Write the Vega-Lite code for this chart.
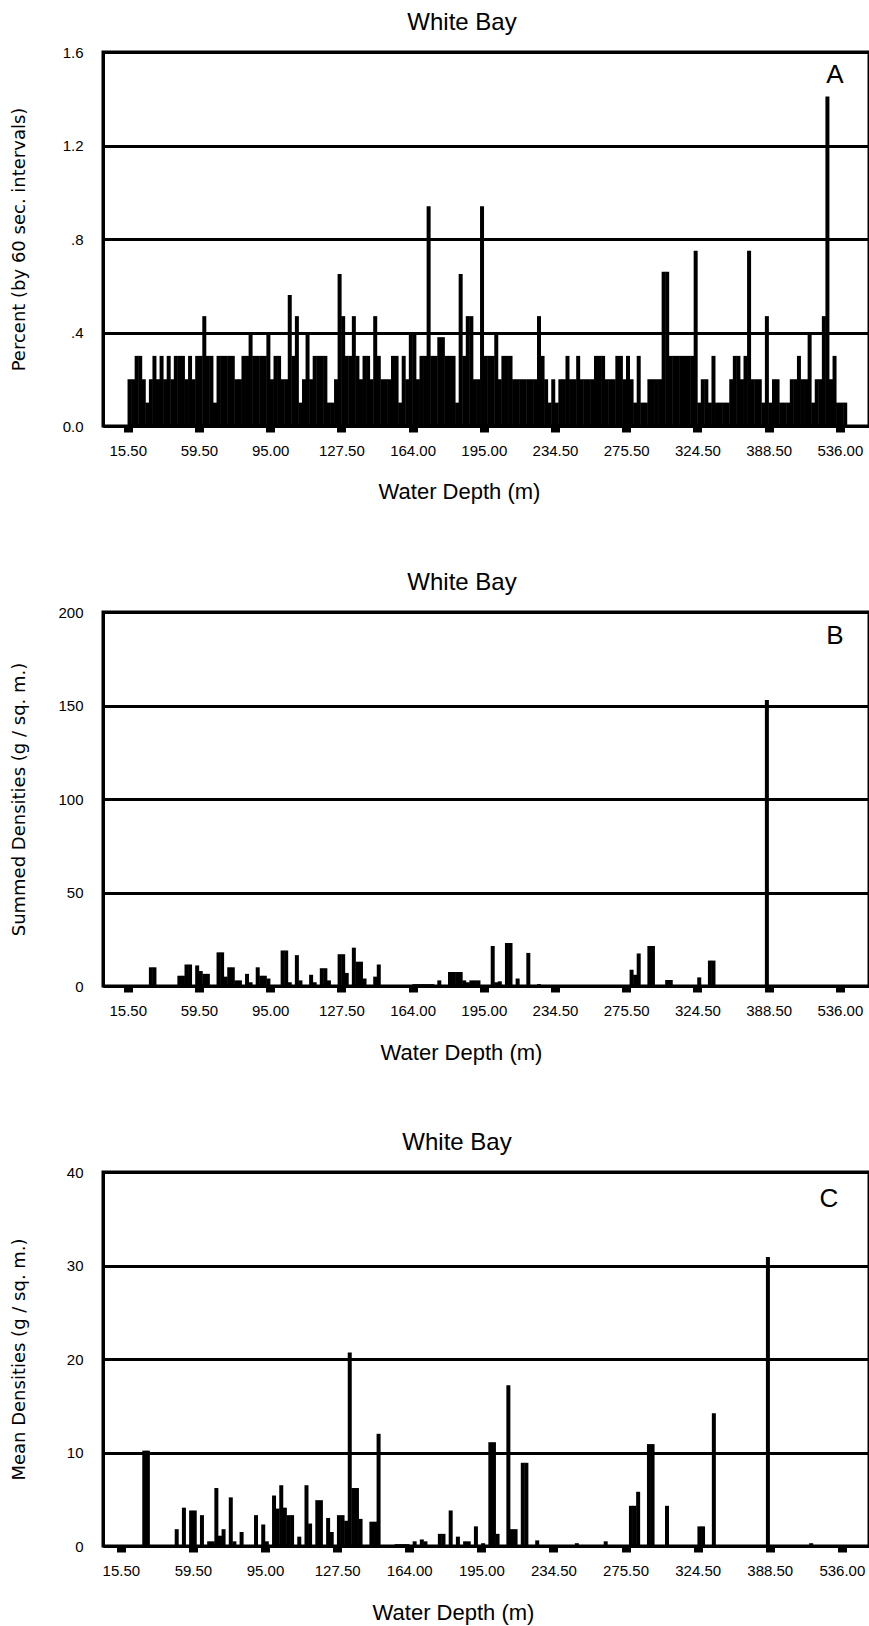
{
  "$schema": "https://vega.github.io/schema/vega-lite/v6.json",
  "background": "white",
  "padding": {"left": 8, "top": 9, "right": 0, "bottom": 0},
  "spacing": 186,
  "bounds": "flush",
  "config": {
    "view": {"stroke": "black", "strokeWidth": 3},
    "font": "Liberation Sans",
    "axis": {"domainColor": "black", "domainWidth": 3, "labelColor": "black", "labelFont": "Liberation Sans", "labelFontSize": 15, "titleColor": "black", "titleFontWeight": "normal"},
    "title": {"font": "Liberation Sans", "fontSize": 24, "fontWeight": "normal", "color": "black", "frame": "group", "baseline": "alphabetic", "offset": 10}
  },
  "datasets": {
    "a": [
      {"i":0,"v":0.2},{"i":1,"v":0.2},{"i":2,"v":0.3},{"i":3,"v":0.3},{"i":4,"v":0.2},{"i":5,"v":0.1},{"i":6,"v":0.2},{"i":7,"v":0.3},{"i":8,"v":0.2},{"i":9,"v":0.3},
      {"i":10,"v":0.2},{"i":11,"v":0.3},{"i":12,"v":0.2},{"i":13,"v":0.3},{"i":14,"v":0.3},{"i":15,"v":0.3},{"i":16,"v":0.2},{"i":17,"v":0.3},{"i":18,"v":0.2},{"i":19,"v":0.3},
      {"i":20,"v":0.3},{"i":21,"v":0.47},{"i":22,"v":0.3},{"i":23,"v":0.3},{"i":24,"v":0.1},{"i":25,"v":0.3},{"i":26,"v":0.3},{"i":27,"v":0.3},{"i":28,"v":0.3},{"i":29,"v":0.3},
      {"i":30,"v":0.2},{"i":31,"v":0.2},{"i":32,"v":0.3},{"i":33,"v":0.3},{"i":34,"v":0.4},{"i":35,"v":0.3},{"i":36,"v":0.3},{"i":37,"v":0.3},{"i":38,"v":0.3},{"i":39,"v":0.4},
      {"i":40,"v":0.2},{"i":41,"v":0.3},{"i":42,"v":0.3},{"i":43,"v":0.2},{"i":44,"v":0.2},{"i":45,"v":0.56},{"i":46,"v":0.3},{"i":47,"v":0.47},{"i":48,"v":0.1},{"i":49,"v":0.2},
      {"i":50,"v":0.4},{"i":51,"v":0.2},{"i":52,"v":0.3},{"i":53,"v":0.3},{"i":54,"v":0.3},{"i":55,"v":0.3},{"i":56,"v":0.1},{"i":57,"v":0.1},{"i":58,"v":0.2},{"i":59,"v":0.65},
      {"i":60,"v":0.47},{"i":61,"v":0.3},{"i":62,"v":0.3},{"i":63,"v":0.47},{"i":64,"v":0.3},{"i":65,"v":0.2},{"i":66,"v":0.3},{"i":67,"v":0.3},{"i":68,"v":0.2},{"i":69,"v":0.47},
      {"i":70,"v":0.3},{"i":71,"v":0.2},{"i":72,"v":0.2},{"i":73,"v":0.2},{"i":74,"v":0.3},{"i":75,"v":0.3},{"i":76,"v":0.1},{"i":77,"v":0.3},{"i":78,"v":0.2},{"i":79,"v":0.4},
      {"i":80,"v":0.4},{"i":81,"v":0.2},{"i":82,"v":0.3},{"i":83,"v":0.3},{"i":84,"v":0.94},{"i":85,"v":0.3},{"i":86,"v":0.3},{"i":87,"v":0.38},{"i":88,"v":0.38},{"i":89,"v":0.3},
      {"i":90,"v":0.3},{"i":91,"v":0.3},{"i":92,"v":0.1},{"i":93,"v":0.65},{"i":94,"v":0.3},{"i":95,"v":0.47},{"i":96,"v":0.47},{"i":97,"v":0.2},{"i":98,"v":0.2},{"i":99,"v":0.94},
      {"i":100,"v":0.3},{"i":101,"v":0.3},{"i":102,"v":0.3},{"i":103,"v":0.4},{"i":104,"v":0.2},{"i":105,"v":0.3},{"i":106,"v":0.3},{"i":107,"v":0.3},{"i":108,"v":0.2},{"i":109,"v":0.2},
      {"i":110,"v":0.2},{"i":111,"v":0.2},{"i":112,"v":0.2},{"i":113,"v":0.2},{"i":114,"v":0.2},{"i":115,"v":0.47},{"i":116,"v":0.3},{"i":117,"v":0.2},{"i":118,"v":0.1},{"i":119,"v":0.2},
      {"i":120,"v":0.1},{"i":121,"v":0.2},{"i":122,"v":0.2},{"i":123,"v":0.3},{"i":124,"v":0.2},{"i":125,"v":0.2},{"i":126,"v":0.3},{"i":127,"v":0.2},{"i":128,"v":0.2},{"i":129,"v":0.2},
      {"i":130,"v":0.2},{"i":131,"v":0.3},{"i":132,"v":0.3},{"i":133,"v":0.3},{"i":134,"v":0.2},{"i":135,"v":0.2},{"i":136,"v":0.2},{"i":137,"v":0.3},{"i":138,"v":0.3},{"i":139,"v":0.2},
      {"i":140,"v":0.3},{"i":141,"v":0.2},{"i":142,"v":0.1},{"i":143,"v":0.3},{"i":144,"v":0.1},{"i":145,"v":0.1},{"i":146,"v":0.2},{"i":147,"v":0.2},{"i":148,"v":0.2},{"i":149,"v":0.2},
      {"i":150,"v":0.66},{"i":151,"v":0.66},{"i":152,"v":0.3},{"i":153,"v":0.3},{"i":154,"v":0.3},{"i":155,"v":0.3},{"i":156,"v":0.3},{"i":157,"v":0.3},{"i":158,"v":0.3},{"i":159,"v":0.75},
      {"i":160,"v":0.1},{"i":161,"v":0.2},{"i":162,"v":0.2},{"i":163,"v":0.1},{"i":164,"v":0.3},{"i":165,"v":0.1},{"i":166,"v":0.1},{"i":167,"v":0.1},{"i":168,"v":0.1},{"i":169,"v":0.2},
      {"i":170,"v":0.3},{"i":171,"v":0.3},{"i":172,"v":0.2},{"i":173,"v":0.3},{"i":174,"v":0.75},{"i":175,"v":0.2},{"i":176,"v":0.2},{"i":177,"v":0.2},{"i":178,"v":0.1},{"i":179,"v":0.47},
      {"i":180,"v":0.1},{"i":181,"v":0.2},{"i":182,"v":0.2},{"i":183,"v":0.1},{"i":184,"v":0.1},{"i":185,"v":0.1},{"i":186,"v":0.2},{"i":187,"v":0.2},{"i":188,"v":0.3},{"i":189,"v":0.2},
      {"i":190,"v":0.2},{"i":191,"v":0.39},{"i":192,"v":0.1},{"i":193,"v":0.2},{"i":194,"v":0.2},{"i":195,"v":0.47},{"i":196,"v":1.41},{"i":197,"v":0.2},{"i":198,"v":0.3},{"i":199,"v":0.1},
      {"i":200,"v":0.1},{"i":201,"v":0.1}
    ],
    "b": [
      {"i":6,"v":10},{"i":7,"v":10},{"i":14,"v":5.5},{"i":15,"v":5.5},{"i":16,"v":11.5},{"i":17,"v":11.5},{"i":19,"v":11},{"i":20,"v":8},{"i":21,"v":6.5},{"i":22,"v":6.5},
      {"i":25,"v":18},{"i":26,"v":18},{"i":27,"v":5},{"i":28,"v":10},{"i":29,"v":10},{"i":30,"v":3},{"i":31,"v":3},{"i":33,"v":6.5},{"i":34,"v":2},{"i":36,"v":10},
      {"i":37,"v":5.5},{"i":38,"v":5.5},{"i":39,"v":4},{"i":43,"v":19},{"i":44,"v":19},{"i":45,"v":2},{"i":47,"v":16.5},{"i":48,"v":3},{"i":51,"v":6},{"i":52,"v":2},
      {"i":54,"v":9.5},{"i":55,"v":9.5},{"i":56,"v":3},{"i":59,"v":17},{"i":60,"v":17},{"i":61,"v":7},{"i":63,"v":20.5},{"i":64,"v":13},{"i":65,"v":13},{"i":66,"v":4},
      {"i":69,"v":5},{"i":70,"v":11.5},{"i":80,"v":1},{"i":81,"v":1},{"i":82,"v":1},{"i":83,"v":1},{"i":84,"v":1},{"i":85,"v":1},{"i":87,"v":3},{"i":90,"v":7.5},
      {"i":91,"v":7.5},{"i":92,"v":7.5},{"i":93,"v":7.5},{"i":94,"v":3},{"i":95,"v":2},{"i":96,"v":3},{"i":97,"v":3},{"i":98,"v":3},{"i":102,"v":21.4},{"i":103,"v":2},
      {"i":104,"v":2.5},{"i":106,"v":23},{"i":107,"v":23},{"i":109,"v":4},{"i":112,"v":17.7},{"i":115,"v":1},{"i":141,"v":8.7},{"i":142,"v":6},{"i":143,"v":17.4},{"i":146,"v":21.4},
      {"i":147,"v":21.4},{"i":151,"v":3.2},{"i":152,"v":3.2},{"i":160,"v":4.6},{"i":163,"v":13.6},{"i":164,"v":13.6},{"i":179,"v":153}
    ],
    "c": [
      {"i":6,"v":10.2},{"i":7,"v":10.2},{"i":15,"v":1.8},{"i":17,"v":4.1},{"i":19,"v":3.8},{"i":20,"v":3.8},{"i":22,"v":3.3},{"i":24,"v":0.5},{"i":25,"v":0.5},{"i":26,"v":6.2},
      {"i":27,"v":1.1},{"i":28,"v":1.8},{"i":30,"v":5.2},{"i":31,"v":0.5},{"i":33,"v":1.5},{"i":37,"v":3.3},{"i":39,"v":2.3},{"i":40,"v":0.5},{"i":42,"v":5.4},{"i":43,"v":4},
      {"i":44,"v":6.5},{"i":45,"v":4.1},{"i":46,"v":3.3},{"i":47,"v":3.3},{"i":49,"v":1},{"i":51,"v":6.5},{"i":52,"v":2.4},{"i":54,"v":4.9},{"i":55,"v":4.9},{"i":57,"v":3},
      {"i":58,"v":1.5},{"i":60,"v":3.3},{"i":61,"v":3.3},{"i":62,"v":2.7},{"i":63,"v":20.7},{"i":64,"v":6.2},{"i":65,"v":6.2},{"i":66,"v":2.9},{"i":69,"v":2.6},{"i":70,"v":2.6},
      {"i":71,"v":12},{"i":76,"v":0.2},{"i":77,"v":0.2},{"i":78,"v":0.2},{"i":79,"v":0.2},{"i":81,"v":0.5},{"i":83,"v":0.7},{"i":84,"v":0.5},{"i":88,"v":1.3},{"i":89,"v":1.3},
      {"i":91,"v":3.8},{"i":93,"v":1},{"i":95,"v":0.5},{"i":96,"v":0.5},{"i":98,"v":2.1},{"i":100,"v":0.3},{"i":102,"v":11.1},{"i":103,"v":11.1},{"i":104,"v":1.3},{"i":107,"v":17.2},
      {"i":108,"v":1.8},{"i":109,"v":1.8},{"i":111,"v":8.9},{"i":112,"v":8.9},{"i":115,"v":0.6},{"i":126,"v":0.3},{"i":134,"v":0.5},{"i":141,"v":4.3},{"i":142,"v":4.3},{"i":143,"v":5.8},
      {"i":146,"v":10.9},{"i":147,"v":10.9},{"i":151,"v":4.3},{"i":160,"v":2.1},{"i":161,"v":2.1},{"i":164,"v":14.2},{"i":179,"v":30.9},{"i":191,"v":0.3}
    ]
  },
  "vconcat": [
    {
      "width": 766,
      "height": 374,
      "title": {"text": "White Bay", "dx": -24},
      "layer": [
        {
          "data": {"name": "a"},
          "mark": {"type": "bar", "width": 4, "xOffset": 1.8, "color": "black"},
          "encoding": {
            "x": {"field": "i", "type": "quantitative", "scale": {"domain": [-5.54, 206.78], "nice": false, "zero": false},
              "axis": {"values": [0,20,40,60,80,100,120,140,160,180,200], "labelExpr": "['15.50','59.50','95.00','127.50','164.00','195.00','234.50','275.50','324.50','388.50','536.00'][round(datum.value/20)]", "grid": false, "tickColor": "black", "tickSize": 6, "tickWidth": 9, "labelPadding": 11, "labelFlush": false, "labelOverlap": false, "title": "Water Depth  (m)", "titleFont": "Liberation Sans", "titleFontSize": 22, "titleX": 356, "titleY": 65, "titleBaseline": "middle", "titleAlign": "center"}},
            "y": {"field": "v", "type": "quantitative", "scale": {"domain": [0, 1.6], "nice": false},
              "axis": {"values": [0, 0.4, 0.8, 1.2, 1.6], "labelExpr": "datum.value == 0 ? '0.0' : (datum.value < 1 ? slice(format(datum.value, '.1f'), 1) : format(datum.value, '.1f'))", "grid": true, "gridColor": "black", "gridWidth": 3, "gridOpacity": 1, "ticks": false, "labelPadding": 20, "labelFlush": false, "title": "Percent  (by 60 sec. intervals)", "titleFont": "DejaVu Sans", "titleFontSize": 18, "titleX": -84, "titleBaseline": "middle"}}
          }
        },
        {
          "data": {"values": [{}]},
          "mark": {"type": "text", "fontSize": 26, "font": "Liberation Sans", "align": "center", "baseline": "middle", "color": "black"},
          "encoding": {"x": {"datum": 198.6, "type": "quantitative"}, "y": {"datum": 1.5, "type": "quantitative"}, "text": {"value": "A"}}
        }
      ]
    },
    {
      "width": 766,
      "height": 374,
      "title": {"text": "White Bay", "dx": -24},
      "layer": [
        {
          "data": {"name": "b"},
          "mark": {"type": "bar", "width": 4, "xOffset": 1.8, "color": "black"},
          "encoding": {
            "x": {"field": "i", "type": "quantitative", "scale": {"domain": [-5.54, 206.78], "nice": false, "zero": false},
              "axis": {"values": [0,20,40,60,80,100,120,140,160,180,200], "labelExpr": "['15.50','59.50','95.00','127.50','164.00','195.00','234.50','275.50','324.50','388.50','536.00'][round(datum.value/20)]", "grid": false, "tickColor": "black", "tickSize": 6, "tickWidth": 9, "labelPadding": 11, "labelFlush": false, "labelOverlap": false, "title": "Water  Depth  (m)", "titleFont": "Liberation Sans", "titleFontSize": 22, "titleX": 358, "titleY": 66, "titleBaseline": "middle", "titleAlign": "center"}},
            "y": {"field": "v", "type": "quantitative", "scale": {"domain": [0, 200], "nice": false},
              "axis": {"values": [0, 50, 100, 150, 200], "grid": true, "gridColor": "black", "gridWidth": 3, "gridOpacity": 1, "ticks": false, "labelPadding": 20, "labelFlush": false, "title": "Summed Densities  (g / sq. m.)", "titleFont": "DejaVu Sans", "titleFontSize": 18, "titleX": -84, "titleBaseline": "middle"}}
          }
        },
        {
          "data": {"values": [{}]},
          "mark": {"type": "text", "fontSize": 26, "font": "Liberation Sans", "align": "center", "baseline": "middle", "color": "black"},
          "encoding": {"x": {"datum": 198.6, "type": "quantitative"}, "y": {"datum": 187, "type": "quantitative"}, "text": {"value": "B"}}
        }
      ]
    },
    {
      "width": 766,
      "height": 374,
      "title": {"text": "White Bay", "dx": -29},
      "layer": [
        {
          "data": {"name": "c"},
          "mark": {"type": "bar", "width": 4, "xOffset": 1.8, "color": "black"},
          "encoding": {
            "x": {"field": "i", "type": "quantitative", "scale": {"domain": [-3.56, 206.15], "nice": false, "zero": false},
              "axis": {"values": [0,20,40,60,80,100,120,140,160,180,200], "labelExpr": "['15.50','59.50','95.00','127.50','164.00','195.00','234.50','275.50','324.50','388.50','536.00'][round(datum.value/20)]", "grid": false, "tickColor": "black", "tickSize": 6, "tickWidth": 9, "labelPadding": 11, "labelFlush": false, "labelOverlap": false, "title": "Water Depth  (m)", "titleFont": "Liberation Sans", "titleFontSize": 22, "titleX": 350, "titleY": 66, "titleBaseline": "middle", "titleAlign": "center"}},
            "y": {"field": "v", "type": "quantitative", "scale": {"domain": [0, 40], "nice": false},
              "axis": {"values": [0, 10, 20, 30, 40], "grid": true, "gridColor": "black", "gridWidth": 3, "gridOpacity": 1, "ticks": false, "labelPadding": 20, "labelFlush": false, "title": "Mean Densities  (g / sq. m.)", "titleFont": "DejaVu Sans", "titleFontSize": 18, "titleX": -84, "titleBaseline": "middle"}}
          }
        },
        {
          "data": {"values": [{}]},
          "mark": {"type": "text", "fontSize": 26, "font": "Liberation Sans", "align": "center", "baseline": "middle", "color": "black"},
          "encoding": {"x": {"datum": 196.4, "type": "quantitative"}, "y": {"datum": 37.1, "type": "quantitative"}, "text": {"value": "C"}}
        }
      ]
    }
  ]
}
